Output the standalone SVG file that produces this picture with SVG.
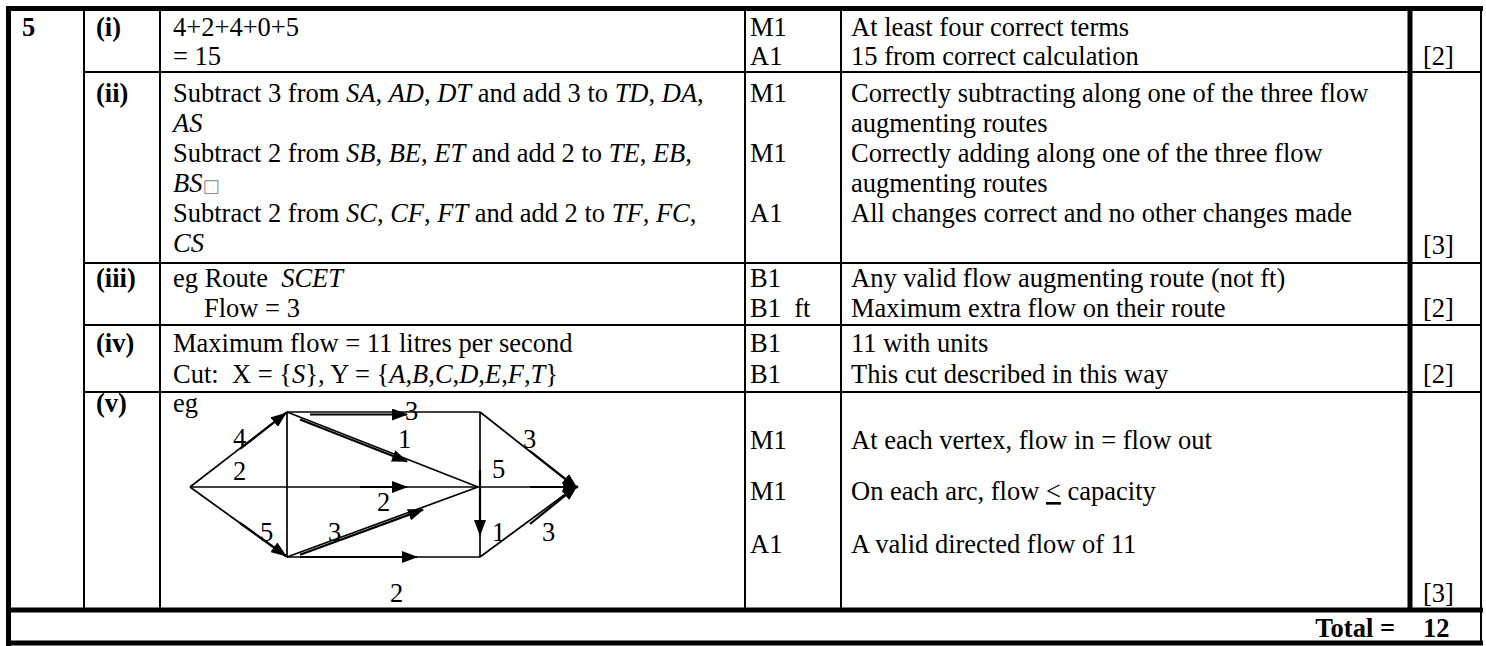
<svg xmlns="http://www.w3.org/2000/svg" width="1486" height="646" viewBox="0 0 1486 646">
<defs>
<style>
.t{font-family:"Liberation Serif","Times New Roman",serif;font-size:26.5px;fill:#000}
.b{font-weight:bold}
.i{font-style:italic}
.thin{stroke:#000;stroke-width:2;fill:none}
.thick{stroke:#000;stroke-width:5;fill:none}
.edge{stroke:#000;stroke-width:1.7;fill:none}
.arr{stroke:#000;stroke-width:2.2;fill:none;marker-end:url(#ah)}
</style>
<marker id="ah" markerUnits="userSpaceOnUse" markerWidth="16" markerHeight="12" refX="15" refY="6" orient="auto">
<path d="M0,0 L16,6 L0,12 Z" fill="#000"/>
</marker>
</defs>
<rect width="1486" height="646" fill="#fff"/>

<g id="table-grid">
<line class="thick" x1="6" y1="8.5" x2="1483" y2="8.5"/>
<line class="thick" x1="8.5" y1="6" x2="8.5" y2="646"/>
<line class="thick" x1="6" y1="643" x2="1483" y2="643"/>
<line class="thick" x1="6" y1="610" x2="1483" y2="610"/>
<line class="thin" x1="1481" y1="6" x2="1481" y2="645"/>
<line class="thick" x1="1410" y1="6" x2="1410" y2="610"/>
<line class="thin" x1="84" y1="8" x2="84" y2="610"/>
<line class="thin" x1="160" y1="8" x2="160" y2="610"/>
<line class="thin" x1="745" y1="8" x2="745" y2="610"/>
<line class="thin" x1="841" y1="8" x2="841" y2="610"/>
<line class="thin" x1="84" y1="72" x2="1481" y2="72"/>
<line class="thin" x1="84" y1="263" x2="1481" y2="263"/>
<line class="thin" x1="84" y1="325" x2="1481" y2="325"/>
<line class="thin" x1="84" y1="392" x2="1481" y2="392"/>
</g>

<g id="q5">
<text class="t b" x="22" y="36">5</text>
</g>

<g id="part-i">
<text class="t b" x="96" y="36">(i)</text>
<text class="t" x="173" y="36">4+2+4+0+5</text>
<text class="t" x="173" y="65">= 15</text>
<text class="t" x="750" y="36">M1</text>
<text class="t" x="851" y="36">At least four correct terms</text>
<text class="t" x="750" y="65">A1</text>
<text class="t" x="851" y="65">15 from correct calculation</text>
<text class="t" x="1423" y="65">[2]</text>
</g>

<g id="part-ii">
<text class="t b" x="96" y="102">(ii)</text>
<text class="t" x="173" y="102">Subtract 3 from <tspan class="i">SA</tspan>, <tspan class="i">AD</tspan>, <tspan class="i">DT</tspan> and add 3 to <tspan class="i">TD</tspan>, <tspan class="i">DA</tspan>,</text>
<text class="t i" x="173" y="132">AS</text>
<text class="t" x="173" y="162">Subtract 2 from <tspan class="i">SB</tspan>, <tspan class="i">BE</tspan>, <tspan class="i">ET</tspan> and add 2 to <tspan class="i">TE</tspan>, <tspan class="i">EB</tspan>,</text>
<text class="t" x="173" y="192"><tspan class="i">BS</tspan><tspan font-family="DejaVu Sans" font-size="18px" fill="#888">□</tspan></text>
<text class="t" x="173" y="222">Subtract 2 from <tspan class="i">SC</tspan>, <tspan class="i">CF</tspan>, <tspan class="i">FT</tspan> and add 2 to <tspan class="i">TF</tspan>, <tspan class="i">FC</tspan>,</text>
<text class="t i" x="173" y="252">CS</text>
<text class="t" x="750" y="102">M1</text>
<text class="t" x="851" y="102">Correctly subtracting along one of the three flow</text>
<text class="t" x="851" y="132">augmenting routes</text>
<text class="t" x="750" y="162">M1</text>
<text class="t" x="851" y="162">Correctly adding along one of the three flow</text>
<text class="t" x="851" y="192">augmenting routes</text>
<text class="t" x="750" y="222">A1</text>
<text class="t" x="851" y="222">All changes correct and no other changes made</text>
<text class="t" x="1423" y="254">[3]</text>
</g>

<g id="part-iii">
<text class="t b" x="96" y="287">(iii)</text>
<text class="t" x="173" y="287" xml:space="preserve">eg Route  <tspan class="i">SCET</tspan></text>
<text class="t" x="204" y="317">Flow = 3</text>
<text class="t" x="750" y="287">B1</text>
<text class="t" x="851" y="287">Any valid flow augmenting route (not ft)</text>
<text class="t" x="750" y="317" xml:space="preserve">B1  ft</text>
<text class="t" x="851" y="317">Maximum extra flow on their route</text>
<text class="t" x="1423" y="317">[2]</text>
</g>

<g id="part-iv">
<text class="t b" x="96" y="352">(iv)</text>
<text class="t" x="173" y="352">Maximum flow = 11 litres per second</text>
<text class="t" x="173" y="383" xml:space="preserve">Cut:  X = {<tspan class="i">S</tspan>}, Y = {<tspan class="i">A</tspan>,<tspan class="i">B</tspan>,<tspan class="i">C</tspan>,<tspan class="i">D</tspan>,<tspan class="i">E</tspan>,<tspan class="i">F</tspan>,<tspan class="i">T</tspan>}</text>
<text class="t" x="750" y="352">B1</text>
<text class="t" x="851" y="352">11 with units</text>
<text class="t" x="750" y="383">B1</text>
<text class="t" x="851" y="383">This cut described in this way</text>
<text class="t" x="1423" y="383">[2]</text>
</g>

<g id="part-v">
<text class="t b" x="96" y="412">(v)</text>
<text class="t" x="173" y="412">eg</text>
<text class="t" x="750" y="449">M1</text>
<text class="t" x="851" y="449">At each vertex, flow in = flow out</text>
<text class="t" x="750" y="500">M1</text>
<text class="t" x="851" y="500">On each arc, flow <tspan text-decoration="underline">&lt;</tspan> capacity</text>
<text class="t" x="750" y="553">A1</text>
<text class="t" x="851" y="553">A valid directed flow of 11</text>
<text class="t" x="1423" y="602">[3]</text>
</g>

<g id="total">
<text class="t b" x="1395" y="637" text-anchor="end">Total =</text>
<text class="t b" x="1423" y="637">12</text>
</g>

<g id="flow-graph-edges">
<line class="edge" x1="190" y1="487" x2="287" y2="412"/>
<line class="edge" x1="190" y1="487" x2="287" y2="557"/>
<line class="edge" x1="190" y1="487" x2="478" y2="487"/>
<line class="edge" x1="287" y1="412" x2="287" y2="557"/>
<line class="edge" x1="287" y1="412" x2="480" y2="412"/>
<line class="edge" x1="287" y1="412" x2="478" y2="487"/>
<line class="edge" x1="287" y1="557" x2="478" y2="487"/>
<line class="edge" x1="287" y1="557" x2="480" y2="557"/>
<line class="edge" x1="480" y1="412" x2="480" y2="557"/>
<line class="edge" x1="478" y1="487" x2="575" y2="487"/>
<line class="edge" x1="480" y1="412" x2="575" y2="487"/>
<line class="edge" x1="480" y1="557" x2="575" y2="487"/>
</g>

<g id="flow-graph-arrows">
<line class="arr" x1="240" y1="449" x2="286" y2="413"/>
<line class="arr" x1="240" y1="523" x2="286" y2="556"/>
<line class="arr" x1="360" y1="487" x2="407" y2="487"/>
<line class="arr" x1="310" y1="414.5" x2="407" y2="414.5"/>
<line class="arr" x1="300" y1="419.6" x2="407" y2="461.4"/>
<line class="arr" x1="300" y1="554.7" x2="423" y2="509.6"/>
<line class="arr" x1="300" y1="557" x2="417" y2="557"/>
<line class="arr" x1="480" y1="470" x2="480" y2="535"/>
<line class="arr" x1="530" y1="451" x2="577" y2="488"/>
<line class="arr" x1="530" y1="487" x2="578" y2="487"/>
<line class="arr" x1="530" y1="524" x2="577" y2="486"/>
</g>

<g id="flow-graph-labels">
<text class="t" x="405" y="420">3</text>
<text class="t" x="233" y="447">4</text>
<text class="t" x="398" y="448">1</text>
<text class="t" x="523" y="448">3</text>
<text class="t" x="233" y="480">2</text>
<text class="t" x="492" y="478">5</text>
<text class="t" x="377" y="511">2</text>
<text class="t" x="260" y="541">5</text>
<text class="t" x="328" y="541">3</text>
<text class="t" x="492" y="541">1</text>
<text class="t" x="542" y="541">3</text>
<text class="t" x="390" y="602">2</text>
</g>
</svg>
